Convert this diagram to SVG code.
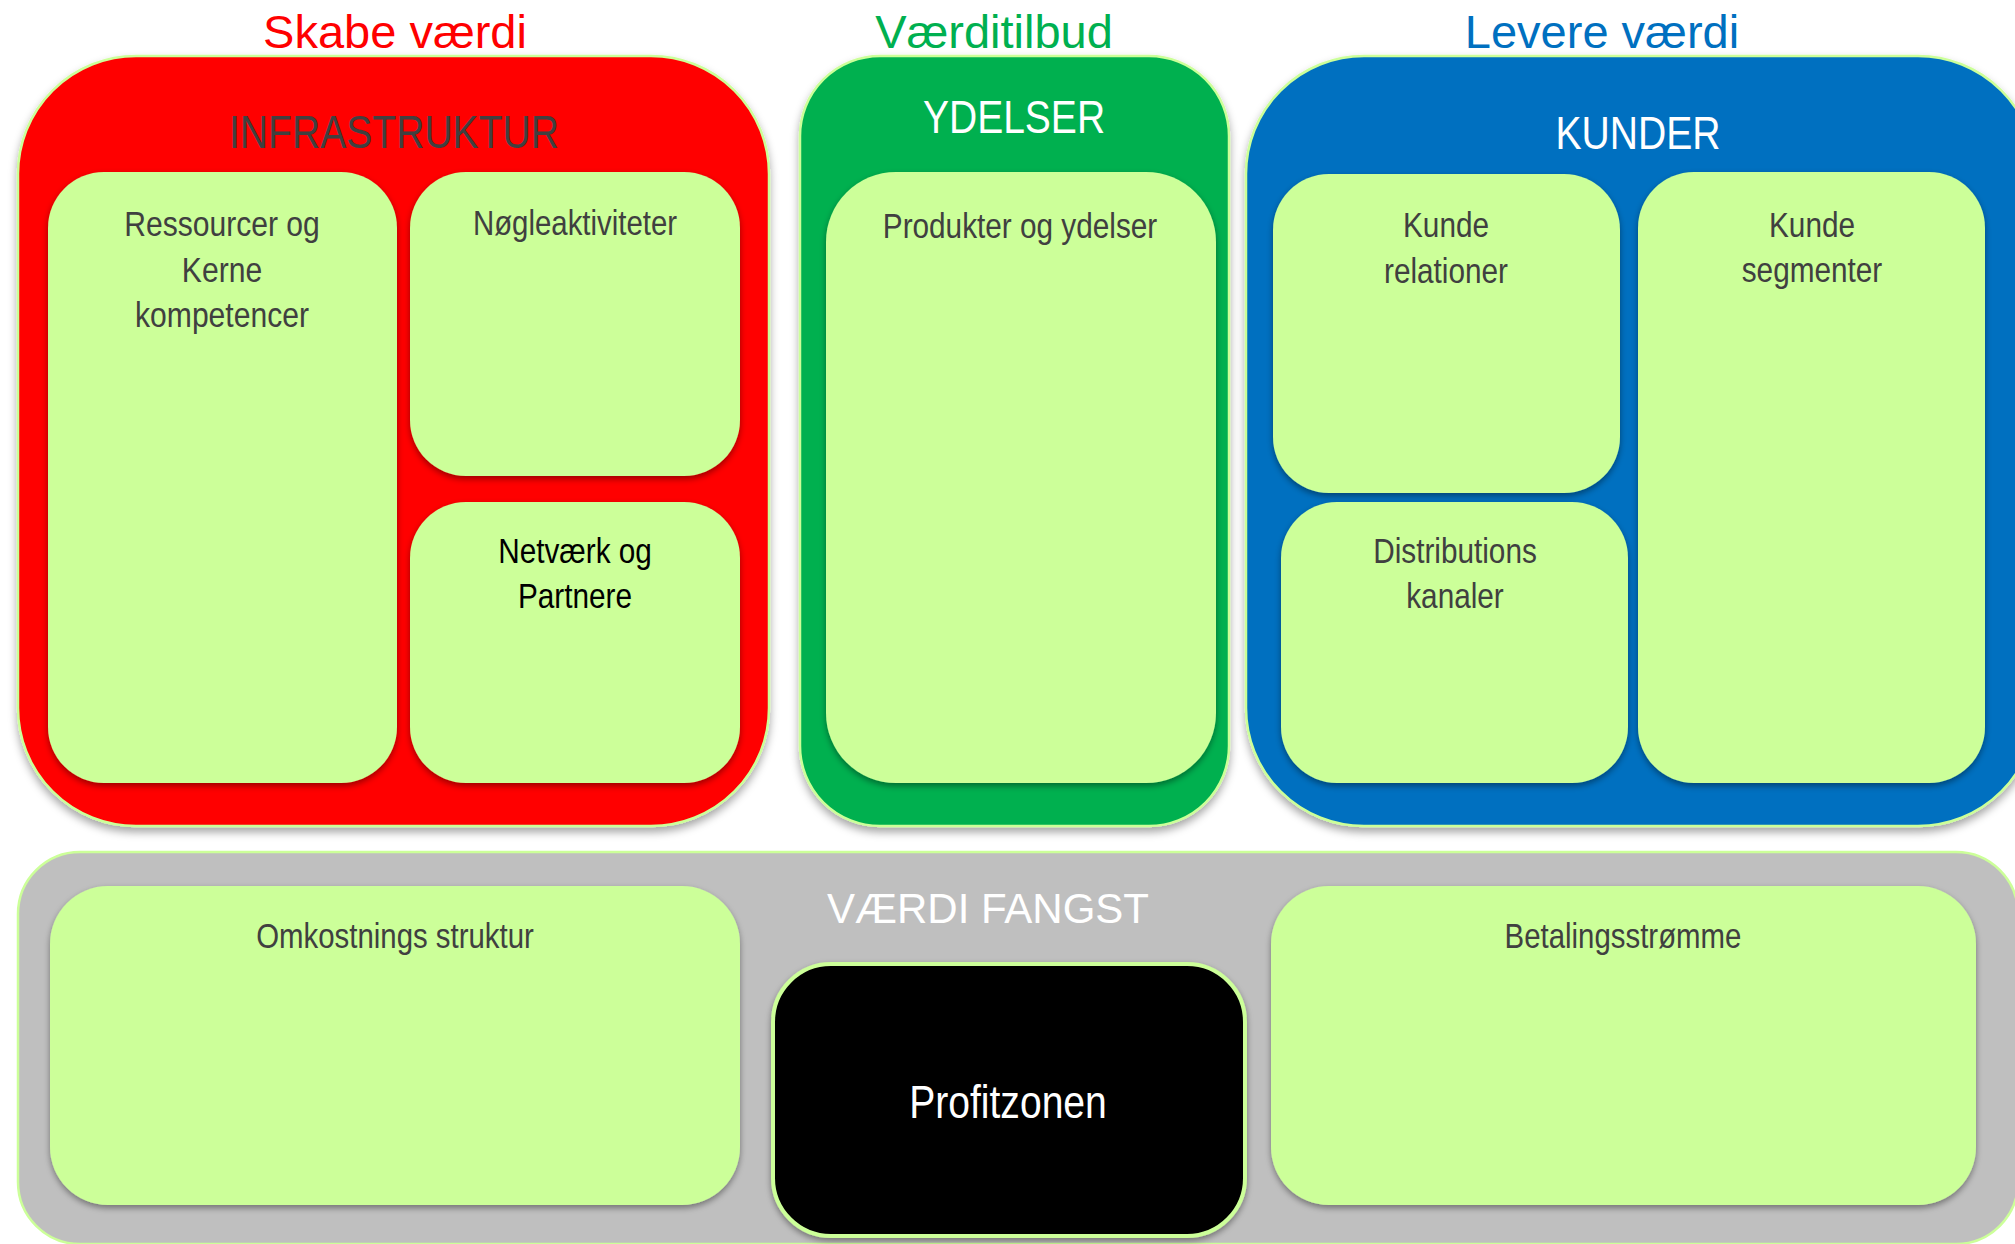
<svg xmlns="http://www.w3.org/2000/svg" width="2015" height="1244" viewBox="0 0 2015 1244">
<defs>
<filter id="sh" x="-5%" y="-5%" width="110%" height="115%">
<feDropShadow dx="0" dy="5" stdDeviation="4" flood-color="#000" flood-opacity="0.35"/>
</filter>
<filter id="sh2" x="-5%" y="-5%" width="110%" height="115%">
<feDropShadow dx="0" dy="3" stdDeviation="3" flood-color="#000" flood-opacity="0.4"/>
</filter>
</defs>
<style>
.outer{stroke:#ccff99;stroke-width:2.5}
.inner{fill:#ccff99}
.t{font-family:"Liberation Sans",Arial,sans-serif;text-anchor:middle}
.lbl{font-size:35px;fill:#404040}
.hd{font-size:46px}
.ttl{font-size:47px}
</style>
<rect width="2015" height="1244" fill="#ffffff"/>

<g id="titles">
<text class="t ttl" x="395" y="48" fill="#ff0000">Skabe værdi</text>
<text class="t ttl" x="994" y="48" fill="#00b050">Værditilbud</text>
<text class="t ttl" x="1602" y="48" fill="#0070c0">Levere værdi</text>
</g>

<g id="infrastruktur">
<rect class="outer" x="18" y="56" width="751" height="770" rx="118" fill="#ff0000" filter="url(#sh)"/>
<g transform="translate(394,148) scale(0.85,1)"><text class="t hd" x="0" y="0" fill="#404040">INFRASTRUKTUR</text></g>
</g>
<g id="ressourcer">
<rect class="inner" x="48" y="172" width="349" height="611" rx="56" filter="url(#sh2)"/>
<g transform="translate(222,0) scale(0.86,1)"><text class="t lbl" x="0" y="236">Ressourcer og</text><text class="t lbl" x="0" y="282">Kerne</text><text class="t lbl" x="0" y="327">kompetencer</text></g>
</g>
<g id="noegleaktiviteter">
<rect class="inner" x="410" y="172" width="330" height="304" rx="56" filter="url(#sh2)"/>
<g transform="translate(575,0) scale(0.84,1)"><text class="t lbl" x="0" y="235">Nøgleaktiviteter</text></g>
</g>
<g id="netvaerk">
<rect class="inner" x="410" y="502" width="330" height="281" rx="56" filter="url(#sh2)"/>
<g transform="translate(575,0) scale(0.85,1)"><text class="t lbl" x="0" y="563" fill="#000000" style="fill:#000">Netværk og</text><text class="t lbl" x="0" y="608" style="fill:#000">Partnere</text></g>
</g>

<g id="ydelser">
<rect class="outer" x="800" y="56" width="429" height="770" rx="80" fill="#00b050" filter="url(#sh)"/>
<g transform="translate(1014,133) scale(0.83,1)"><text class="t hd" x="0" y="0" fill="#ffffff" style="font-size:47px">YDELSER</text></g>
</g>
<g id="produkter">
<rect class="inner" x="826" y="172" width="390" height="611" rx="70" filter="url(#sh2)"/>
<g transform="translate(1020,0) scale(0.85,1)"><text class="t lbl" x="0" y="238">Produkter og ydelser</text></g>
</g>

<g id="kunder">
<rect class="outer" x="1246" y="56" width="790" height="770" rx="118" fill="#0070c0" filter="url(#sh)"/>
<g transform="translate(1638,149) scale(0.85,1)"><text class="t hd" x="0" y="0" fill="#ffffff">KUNDER</text></g>
</g>
<g id="kunderelationer">
<rect class="inner" x="1273" y="174" width="347" height="319" rx="56" filter="url(#sh2)"/>
<g transform="translate(1446,0) scale(0.85,1)"><text class="t lbl" x="0" y="237">Kunde</text><text class="t lbl" x="0" y="283">relationer</text></g>
</g>
<g id="distributionskanaler">
<rect class="inner" x="1281" y="502" width="347" height="281" rx="56" filter="url(#sh2)"/>
<g transform="translate(1455,0) scale(0.85,1)"><text class="t lbl" x="0" y="563">Distributions</text><text class="t lbl" x="0" y="608">kanaler</text></g>
</g>
<g id="kundesegmenter">
<rect class="inner" x="1638" y="172" width="347" height="611" rx="56" filter="url(#sh2)"/>
<g transform="translate(1812,0) scale(0.85,1)"><text class="t lbl" x="0" y="237">Kunde</text><text class="t lbl" x="0" y="282">segmenter</text></g>
</g>

<g id="vaerdifangst">
<rect class="outer" x="18" y="852" width="2000" height="392" rx="62" fill="#bfbfbf"/>
<text class="t" x="988" y="923" fill="#ffffff" style="font-size:42px">VÆRDI FANGST</text>
</g>
<g id="omkostninger">
<rect class="inner" x="50" y="886" width="690" height="319" rx="58" filter="url(#sh2)"/>
<g transform="translate(395,0) scale(0.84,1)"><text class="t lbl" x="0" y="948">Omkostnings struktur</text></g>
</g>
<g id="profitzonen">
<rect x="773" y="964" width="472" height="272" rx="58" fill="#000000" stroke="#ccff99" stroke-width="4" filter="url(#sh2)"/>
<g transform="translate(1008,1118) scale(0.85,1)"><text class="t" x="0" y="0" fill="#ffffff" style="font-size:46px">Profitzonen</text></g>
</g>
<g id="betalingsstroemme">
<rect class="inner" x="1271" y="886" width="705" height="319" rx="58" filter="url(#sh2)"/>
<g transform="translate(1623,0) scale(0.84,1)"><text class="t lbl" x="0" y="948">Betalingsstrømme</text></g>
</g>
<g id="connectors"/>
</svg>
